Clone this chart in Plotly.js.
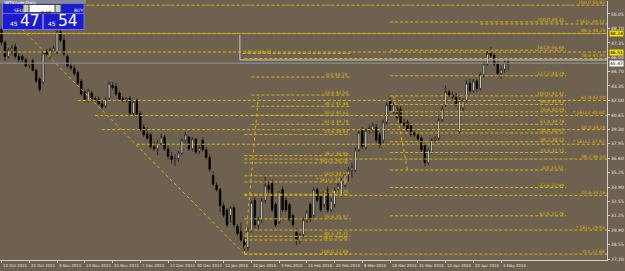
<!DOCTYPE html>
<html><head><meta charset="utf-8">
<script src="https://cdn.plot.ly/plotly-3.0.1.min.js"></script>
<style>html,body{margin:0;padding:0;background:#6e6150;}#c{width:625px;height:271px;}</style>
</head><body><div id="c"></div>
<script>
// bar index 0 = 12 Oct 2015, one bar per trading day
const tickIdx = [0,8,16,24,32,40,48,56,64,72,80,88,96,104,112,120,128,136,144];
const tickLabels = ['12 Oct 2015','22 Oct 2015','3 Nov 2015','13 Nov 2015','25 Nov 2015','7 Dec 2015','17 Dec 2015','30 Dec 2015','12 Jan 2016','22 Jan 2016','3 Feb 2016','15 Feb 2016','25 Feb 2016','8 Mar 2016','18 Mar 2016','31 Mar 2016','12 Apr 2016','22 Apr 2016','4 May 2016'];
const priceTicks = [50.05,48.70,47.35,46.00,44.70,43.35,42.00,40.65,39.30,37.95,36.60,35.25,33.90,32.55,31.25,29.90,28.55,27.20];

const open  = [48.6,47.4,46.1,46.6,47.0,46.1,46.1,45.8,45.3,45.7,44.8,44.0,43.7,46.5,46.1,46.6,46.5,48.4,47.6,46.1,45.2,45.0,44.6,43.8,42.8,41.9,42.7,42.2,42.1,41.7,41.5,42.2,43.4,43.3,42.7,42.2,42.0,42.2,40.8,42.0,40.8,39.5,38.9,38.8,37.7,37.5,38.0,38.6,37.5,36.8,36.4,36.6,37.1,38.3,38.6,37.5,38.4,37.3,38.3,37.4,36.7,35.0,34.1,33.7,32.2,31.8,31.3,32.0,30.3,29.8,29.0,28.3,29.9,32.7,30.4,30.9,32.7,34.1,34.3,32.3,30.7,33.7,32.7,32.3,31.3,29.7,29.0,29.5,30.9,32.3,31.3,33.7,33.2,32.3,33.7,31.8,32.3,33.7,33.2,34.1,35.1,35.5,35.5,37.4,39.2,37.6,39.3,39.3,39.5,38.8,38.3,40.0,42.0,40.9,41.3,41.2,39.9,40.0,39.7,39.0,38.8,38.5,37.8,36.2,37.2,38.3,38.5,40.2,41.6,42.8,42.5,42.5,39.1,41.3,42.0,43.6,42.9,43.8,43.1,44.4,45.4,46.4,46.2,45.4,44.5,44.9,45.5];
const high  = [48.8,47.6,46.9,47.2,47.3,46.4,46.3,46.0,45.6,45.9,45.0,44.2,46.6,46.8,46.9,47.1,48.6,48.7,48.1,46.3,45.6,45.3,44.8,44.0,43.0,43.1,42.9,42.4,42.4,42.0,42.3,43.8,43.7,43.6,42.9,42.4,42.3,42.4,42.1,42.2,41.0,39.8,39.5,39.0,38.2,38.3,38.9,38.8,37.8,37.2,37.0,37.3,38.5,39.1,38.7,38.6,38.5,37.9,38.6,37.7,37.0,35.4,34.4,33.9,32.5,32.0,32.2,32.3,30.5,30.6,29.3,30.2,32.7,33.0,31.2,32.9,35.1,34.5,34.6,32.5,33.5,34.0,33.0,32.5,31.5,30.1,29.6,31.1,31.8,32.5,33.9,33.9,33.4,33.6,34.0,32.9,33.9,34.3,34.8,35.3,35.8,36.2,37.6,39.2,39.5,39.4,39.7,39.9,39.8,39.0,40.2,41.8,42.3,41.8,41.7,41.5,40.3,40.2,39.9,39.3,39.0,38.7,38.0,37.6,38.5,38.7,40.4,41.5,43.4,43.0,42.8,42.7,42.3,42.2,43.9,44.0,44.0,44.0,44.6,45.6,46.8,47.0,46.5,45.6,45.2,45.8,45.9];
const low   = [47.1,45.7,45.9,46.2,45.9,45.5,45.5,45.1,45.0,44.7,43.6,42.8,43.5,46.1,45.8,46.4,46.3,47.4,46.1,45.0,44.8,44.3,43.4,42.4,41.9,41.8,41.9,41.8,41.5,41.2,41.3,42.0,43.0,42.4,41.9,41.8,41.8,40.6,40.6,40.5,39.1,38.6,38.3,37.5,37.3,36.9,37.8,37.3,36.5,36.1,35.9,36.3,36.9,38.0,37.3,37.3,37.0,37.0,37.2,36.5,35.3,34.0,33.5,31.6,31.1,30.2,30.6,30.2,29.4,28.8,27.69,28.0,29.7,30.1,30.0,30.6,32.4,33.4,31.6,30.2,30.5,31.6,31.6,30.7,30.2,28.5,28.6,29.3,30.6,30.7,31.1,32.5,31.6,32.0,31.6,31.6,32.0,33.4,33.0,33.9,34.4,34.8,35.3,37.2,37.5,37.4,38.9,39.0,38.1,37.6,38.0,39.8,41.0,40.7,40.1,39.7,39.5,39.1,38.6,38.6,38.2,37.2,35.9,36.0,37.0,38.1,38.3,40.0,41.4,42.3,42.1,41.4,38.9,41.0,41.8,42.6,42.7,42.8,42.9,44.1,45.2,45.7,45.2,44.2,44.0,44.6,44.8];
const close = [47.4,46.1,46.7,46.9,46.1,45.8,45.8,45.2,45.5,44.8,43.8,43.0,46.4,46.3,46.7,46.9,48.4,47.6,46.3,45.2,45.0,44.5,43.6,42.6,42.1,42.9,42.1,42.0,41.7,41.4,42.1,43.6,43.2,42.6,42.1,42.0,42.2,40.8,41.9,40.7,39.3,38.8,38.5,37.7,37.5,38.0,38.6,37.5,36.8,36.5,36.6,37.1,38.3,38.8,37.5,38.4,37.2,37.6,37.4,36.7,35.6,34.2,33.7,32.2,31.3,30.4,32.0,30.4,29.6,29.0,28.3,29.9,32.5,30.4,30.9,32.7,34.1,33.7,31.8,30.4,33.5,31.8,31.8,30.9,30.4,29.0,29.5,30.9,31.6,30.9,33.7,32.7,31.8,33.5,31.8,32.7,33.7,34.1,34.6,35.1,35.5,35.8,37.4,39.0,37.7,39.2,39.4,39.7,38.3,37.9,40.0,41.6,41.1,41.6,40.4,39.9,39.7,39.3,38.8,38.8,38.4,37.4,36.2,37.4,38.3,38.5,40.2,41.2,42.8,42.5,42.3,41.6,42.0,42.0,43.6,42.9,43.8,43.1,44.4,45.4,46.4,46.2,45.4,44.5,44.9,45.5,45.47];

// Fibonacci tool R (right labels): level, price, first bar of the line
const rLevel = [0,23.6,38.2,50,61.8,78.6,88.6,100];
const rPrice = [27.69,33.16,36.54,39.28,42.00,45.91,48.24,50.87];
const rFrom  = [70,70,70,29,22,70,0,0];
// Fibonacci tool M (labels in the middle column)
const mLevel = [-61.8,-23.6,0,23.6,38.2,50,61.8,78.6,88.6,100,127.2,161.8,200];
const mPrice = [31.26,33.89,35.52,37.15,38.15,38.97,39.78,40.94,41.63,42.42,44.29,46.68,49.31];
// Fibonacci tools L1 and L2 (left column)
const l1Level = [0,23.6,38.2,50,61.8];
const l1Price = [44.18,42.50,41.46,40.62,39.78];
const l2Level = [23.6,38.2,50,61.8,78.6,88.6,100];
const l2Price = [38.83,36.86,34.98,33.26,30.97,29.35,27.69];
const l2Ext = {level:127.2, price:46.37};
// starred marker levels
const starName  = ['* SELL','* SELL2','* SELL1','* SELL','* SELL1','* SELL2','* SELL'];
const starPrice = [49.12,40.60,37.92,29.93,36.18,34.41,29.00];
const starCol   = ['R','R','R','R','L','L','L'];
const starFrom  = [138,27,39,70,70,70,70];
// horizontal lines with price tags on the axis
const hPrice = [48.24,46.51];
// dotted trend lines of the tools: [bar, price] pairs
const trendA = [[6,48.60],[70,27.69]];
const trendB = [[70,27.69],[74,42.27]];
const trendC = [[113,42.42],[117,35.52]];
// grey frame line
const frameBar = 68.7, frameTop = 48.09, frameLevel = 45.77;

const bidPrice = 45.47;
const sellPrice = ['45','47'], buyPrice = ['45','54'], lotSize = '0.10';
const symbol = 'WTICrude,Daily';

const idx = open.map((_, i) => i);
const W = 607, H = 259, T = 1;
const px = x => x / W, py = y => 1 - (y - T) / H;
const END_R = 174.2, END_M = 162.7, END_L = 100.5;

const shapes = [];
const annotations = [];
const gold = '#d9b512';
const fnt = {size:4.5, color:gold, family:'DejaVu Sans'};
function level(p, x0, x1, txt, labX, anchor) {
  shapes.push({type:'line', xref:'x', yref:'y', x0:x0, x1:x1, y0:p, y1:p, line:{color:gold, width:1, dash:'3px,2px'}});
  annotations.push({xref:'x', yref:'y', x:labX, y:p, xanchor:anchor||'right', yanchor:'bottom', yshift:-1,
    text:txt, showarrow:false, font:fnt, borderpad:0});
}
const lbl = (l, p) => l.toFixed(1) + ' ' + p.toFixed(2);
hPrice.forEach(p => {
  shapes.push({type:'line', xref:'x', yref:'y', x0:-1, x1:175, y0:p, y1:p, line:{color:gold, width:1, dash:'3px,2px'}});
  annotations.push({xref:'paper', yref:'y', x:1.003, y:p, xanchor:'left', text:p.toFixed(2), showarrow:false,
    bgcolor:'#f0e000', font:{size:4.5, color:'#000000', family:'DejaVu Sans'}, borderpad:0});
});
rLevel.forEach((l, k) => level(rPrice[k], rFrom[k], 175, lbl(l, rPrice[k]), END_R));
mLevel.forEach((l, k) => level(mPrice[k], 112, END_M, lbl(l, mPrice[k]), END_M - 0.3));
l1Level.forEach((l, k) => level(l1Price[k], 72, END_L, lbl(l, l1Price[k]), END_L - 0.3));
l2Level.forEach((l, k) => level(l2Price[k], 70, END_L, lbl(l, l2Price[k]), END_L - 0.3));
level(l2Ext.price, 69.5, END_L, lbl(l2Ext.level, l2Ext.price), 69.5, 'left');
starName.forEach((n, k) => {
  const end = starCol[k] === 'R' ? 175 : END_L;
  level(starPrice[k], starFrom[k], end, n + ' ' + starPrice[k].toFixed(2), (starCol[k] === 'R' ? END_R : END_L - 0.3));
});
[trendA, trendB, trendC].forEach(t => shapes.push({type:'line', xref:'x', yref:'y', x0:t[0][0], y0:t[0][1], x1:t[1][0], y1:t[1][1],
  line:{color:gold, width:1, dash:'dot'}}));

shapes.push({type:'line', xref:'x', yref:'y', x0:frameBar, x1:frameBar, y0:frameTop, y1:frameLevel, line:{color:'#c8c8c8', width:1}});
shapes.push({type:'line', xref:'x', yref:'y', x0:frameBar, x1:175, y0:frameLevel, y1:frameLevel, line:{color:'#c8c8c8', width:1}});
shapes.push({type:'line', xref:'paper', yref:'y', x0:0, x1:1, y0:bidPrice, y1:bidPrice, line:{color:'#8e98a6', width:1}});

// x axis date labels, placed to the right of each tick as in the terminal
tickIdx.forEach((b, k) => annotations.push({xref:'x', yref:'paper', x:b, y:0, xanchor:'left', yanchor:'top', yshift:-1.5, xshift:0.5,
  text:tickLabels[k], showarrow:false, font:{size:3.9, color:'#e6e6e6', family:'DejaVu Sans'}, borderpad:0}));

// one-click trading panel
shapes.push({type:'rect', xref:'paper', yref:'paper', x0:px(0), x1:px(86), y0:py(0), y1:py(3.5), fillcolor:'#8a8a8a', line:{width:0}});
shapes.push({type:'rect', xref:'paper', yref:'paper', x0:px(2.5), x1:px(42.5), y0:py(3.5), y1:py(29.5), fillcolor:'#1c1cc8', line:{color:'#7070ff', width:1}});
shapes.push({type:'rect', xref:'paper', yref:'paper', x0:px(43.5), x1:px(84), y0:py(3.5), y1:py(29.5), fillcolor:'#1c1cc8', line:{color:'#7070ff', width:1}});
shapes.push({type:'rect', xref:'paper', yref:'paper', x0:px(23), x1:px(61), y0:py(4.5), y1:py(12.5), fillcolor:'#ffffff', line:{color:'#404040', width:1}});
shapes.push({type:'rect', xref:'paper', yref:'paper', x0:px(23), x1:px(29), y0:py(4.5), y1:py(12.5), fillcolor:'#c8c8c8', line:{color:'#404040', width:1}});
shapes.push({type:'rect', xref:'paper', yref:'paper', x0:px(55), x1:px(61), y0:py(4.5), y1:py(12.5), fillcolor:'#c8c8c8', line:{color:'#404040', width:1}});
shapes.push({type:'line', xref:'paper', yref:'paper', x0:px(2.5), x1:px(84), y0:py(13.5), y1:py(13.5), line:{color:'#6a6aff', width:1}});

annotations.push({xref:'paper', yref:'paper', x:px(4), y:py(-0.5), xanchor:'left', yanchor:'top', text:symbol, showarrow:false, font:{size:4, color:'#ffffff', family:'DejaVu Sans'}, borderpad:0});
annotations.push({xref:'paper', yref:'paper', x:px(12.5), y:py(7), text:'SELL', showarrow:false, font:{size:4.5, color:'#ffffff', family:'DejaVu Sans'}, borderpad:0});
annotations.push({xref:'paper', yref:'paper', x:px(73), y:py(7), text:'BUY', showarrow:false, font:{size:4.5, color:'#ffffff', family:'DejaVu Sans'}, borderpad:0});
annotations.push({xref:'paper', yref:'paper', x:px(52), y:py(8.5), xanchor:'right', text:lotSize, showarrow:false, font:{size:4.5, color:'#000000', family:'DejaVu Sans'}, borderpad:0});
annotations.push({xref:'paper', yref:'paper', x:px(19), y:py(27.5), xanchor:'right', yanchor:'bottom', text:sellPrice[0], showarrow:false, font:{size:6, color:'#ffffff', family:'DejaVu Sans'}, borderpad:0});
annotations.push({xref:'paper', yref:'paper', x:px(18.5), y:py(31.5), xanchor:'left', yanchor:'bottom', text:sellPrice[1], showarrow:false, font:{size:15.5, color:'#ffffff', family:'DejaVu Sans'}, borderpad:0});
annotations.push({xref:'paper', yref:'paper', x:px(57), y:py(27.5), xanchor:'right', yanchor:'bottom', text:buyPrice[0], showarrow:false, font:{size:6, color:'#ffffff', family:'DejaVu Sans'}, borderpad:0});
annotations.push({xref:'paper', yref:'paper', x:px(57), y:py(31.5), xanchor:'left', yanchor:'bottom', text:buyPrice[1], showarrow:false, font:{size:15.5, color:'#ffffff', family:'DejaVu Sans'}, borderpad:0});

annotations.push({xref:'paper', yref:'y', x:1.003, y:bidPrice, xanchor:'left', text:bidPrice.toFixed(2), showarrow:false, bgcolor:'#ffffff', font:{size:4.5, color:'#000000', family:'DejaVu Sans'}, borderpad:0});

const trace = {
  type:'candlestick', x:idx, open:open, high:high, low:low, close:close,
  increasing:{line:{color:'#000000', width:0.6}, fillcolor:'#f2f2f2'},
  decreasing:{line:{color:'#000000', width:0.6}, fillcolor:'#000000'},
  whiskerwidth:0, hoverinfo:'skip'
};

const layout = {
  width:625, height:271,
  margin:{l:0, r:18, t:T, b:11},
  paper_bgcolor:'#6e6150', plot_bgcolor:'#6e6150',
  showlegend:false, boxgap:0.3,
  font:{family:'DejaVu Sans', color:'#e6e6e6', size:4.5},
  xaxis:{range:[-0.43, 174.5], tickvals:tickIdx, showticklabels:false,
    ticks:'outside', ticklen:2, tickcolor:'#d0d0d0', showline:true, linecolor:'#d0d0d0', linewidth:1,
    showgrid:false, zeroline:false, rangeslider:{visible:false}, fixedrange:true},
  yaxis:{side:'right', range:[27.14, 51.26], tickvals:priceTicks, ticktext:priceTicks.map(v=>v.toFixed(2)),
    ticks:'outside', ticklen:2, tickcolor:'#d0d0d0', showline:true, linecolor:'#d0d0d0', linewidth:1,
    showgrid:false, zeroline:false, tickfont:{size:4.5, color:'#e6e6e6'}, fixedrange:true, ticklabelstandoff:0},
  shapes:shapes, annotations:annotations
};
Plotly.newPlot('c', [trace], layout, {staticPlot:true, displayModeBar:false});
</script></body></html>
